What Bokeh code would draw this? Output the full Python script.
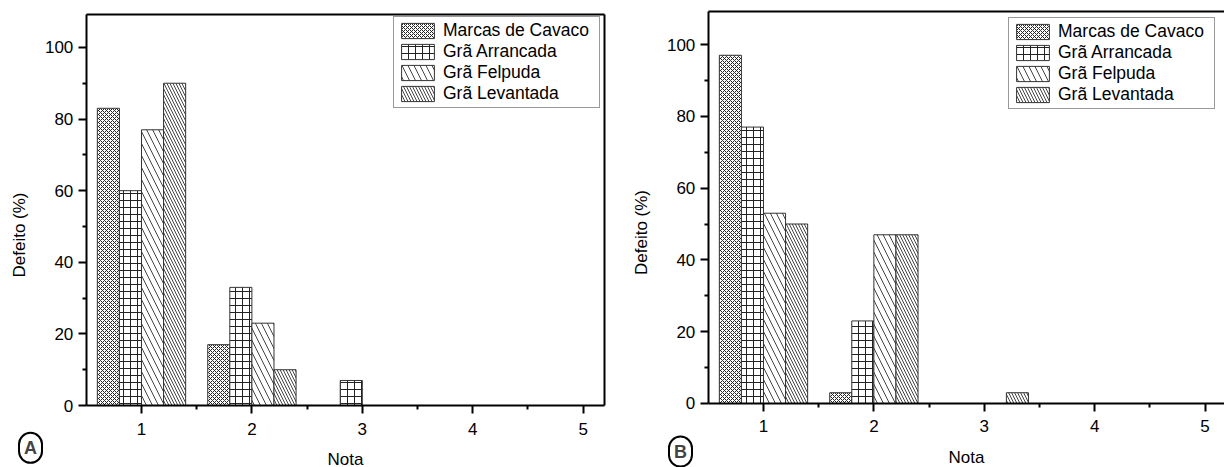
from bokeh.plotting import figure
from bokeh.layouts import row
from bokeh.models import FixedTicker, Legend, LegendItem, Label, LinearAxis
from bokeh.embed import file_html
from bokeh.resources import INLINE

notas = [1, 2, 3, 4, 5]
series = ["Marcas de Cavaco", "Grã Arrancada", "Grã Felpuda", "Grã Levantada"]

# Panel A values (%)
a_marcas = [83, 17, 0, 0, 0]
a_arrancada = [60, 33, 7, 0, 0]
a_felpuda = [77, 23, 0, 0, 0]
a_levantada = [90, 10, 0, 0, 0]

# Panel B values (%)
b_marcas = [97, 3, 0, 0, 0]
b_arrancada = [77, 23, 0, 0, 0]
b_felpuda = [53, 47, 0, 0, 0]
b_levantada = [50, 47, 3, 0, 0]

x_ticks = [1, 2, 3, 4, 5]
x_minor = [1.5, 2.5, 3.5, 4.5]
y_ticks = [0, 20, 40, 60, 80, 100]
y_minor = [10, 30, 50, 70, 90]

offsets = [-0.3, -0.1, 0.1, 0.3]
hatches = [
    dict(hatch_pattern="diagonal_cross", hatch_scale=4, hatch_weight=1, hatch_color="#222222"),
    dict(hatch_pattern="cross", hatch_scale=7, hatch_weight=1, hatch_color="#222222"),
    dict(hatch_pattern="left_diagonal_line", hatch_scale=12, hatch_weight=1, hatch_color="#444444"),
    dict(hatch_pattern="left_diagonal_line", hatch_scale=6, hatch_weight=1, hatch_color="#444444"),
]

FONT = "Liberation Sans"


def style_axis(ax):
    ax.axis_line_width = 2
    ax.axis_line_color = "black"
    ax.major_tick_line_width = 2
    ax.minor_tick_line_width = 2
    ax.major_tick_out = 8
    ax.major_tick_in = 0
    ax.minor_tick_out = 4
    ax.minor_tick_in = 0
    ax.major_label_text_font = FONT
    ax.major_label_text_font_size = "17px"
    ax.major_label_text_color = "black"
    ax.axis_label_text_font = FONT
    ax.axis_label_text_font_size = "17px"
    ax.axis_label_text_font_style = "normal"
    ax.axis_label_text_color = "black"


def bare_axis(loc, bounds):
    return LinearAxis(fixed_location=loc, bounds=bounds, ticker=FixedTicker(ticks=[]),
                      major_label_text_font_size="0px", axis_line_width=2,
                      axis_line_color="black", major_tick_line_color=None,
                      minor_tick_line_color=None)


def make_panel(vals, width, height, xr, yr, xb, yb, ylab_bounds, right_line, legloc,
               letter, lx, ly):
    p = figure(width=width, height=height, output_backend="svg", toolbar_location=None,
               x_range=xr, y_range=yr, x_axis_location=None, y_axis_location=None,
               min_border=0, min_border_left=0, min_border_right=0,
               min_border_top=0, min_border_bottom=0)
    p.grid.visible = False
    p.outline_line_color = None

    items = []
    for i, (name, v) in enumerate(zip(series, vals)):
        xs = [n + offsets[i] for n in notas]
        xs2 = [x for x, y in zip(xs, v) if y > 0]
        ys2 = [y for y in v if y > 0]
        r = p.vbar(x=xs2, top=ys2, width=0.2, bottom=0, fill_color="white",
                   line_color="#333333", line_width=1, **hatches[i])
        items.append(LegendItem(label=name, renderers=[r]))

    xa = LinearAxis(fixed_location=0, bounds=xb,
                    ticker=FixedTicker(ticks=x_ticks, minor_ticks=x_minor),
                    axis_label="Nota")
    style_axis(xa)
    xa.major_label_standoff = 9
    xa.axis_label_standoff = 12
    p.add_layout(xa, "below")

    ya = LinearAxis(fixed_location=0.5, bounds=yb,
                    ticker=FixedTicker(ticks=y_ticks, minor_ticks=y_minor))
    style_axis(ya)
    ya.major_label_standoff = 5
    p.add_layout(ya, "left")

    # axis title, centred a little below the middle of the frame as in the original
    yl = LinearAxis(fixed_location=0.5, bounds=ylab_bounds, ticker=FixedTicker(ticks=[]),
                    axis_label="Defeito (%)")
    style_axis(yl)
    yl.axis_line_color = None
    yl.major_tick_line_color = None
    yl.minor_tick_line_color = None
    yl.major_tick_out = 0
    yl.minor_tick_out = 0
    yl.major_label_text_font_size = "0px"
    yl.axis_label_standoff = 58
    p.add_layout(yl, "left")

    p.add_layout(bare_axis(yb[1], xb), "above")
    if right_line:
        p.add_layout(bare_axis(xb[1], yb), "right")

    leg = Legend(items=items, location=legloc, label_text_font=FONT,
                 label_text_font_size="17.5px", label_text_color="black",
                 glyph_width=41, glyph_height=19,
                 label_height=19, label_width=153, spacing=0, padding=3, margin=0,
                 label_standoff=5,
                 border_line_color="#333333", border_line_width=1.5,
                 background_fill_alpha=1)
    p.add_layout(leg)

    lab = Label(x=lx, y=ly, text=letter, text_align="center", text_baseline="middle",
                text_font=FONT, text_font_size="18px", text_font_style="bold",
                border_line_color="black", border_line_width=2, border_radius=14,
                padding=5, background_fill_color="white")
    p.add_layout(lab)
    return p


pA = make_panel([a_marcas, a_arrancada, a_felpuda, a_levantada],
                width=630, height=467, xr=(-0.277, 5.429), yr=(-17.3, 113.1),
                xb=(0.5, 5.19), yb=(0, 109.2), ylab_bounds=(-14, 109.2), right_line=True,
                legloc=(393, 359), letter="A", lx=-0.005, ly=-11.8)
pB = make_panel([b_marcas, b_arrancada, b_felpuda, b_levantada],
                width=594, height=467, xr=(-0.2047, 5.176), yr=(-17.83, 112.26),
                xb=(0.5, 5.176), yb=(0, 109.2), ylab_bounds=(-14, 109.2), right_line=False,
                legloc=(378, 358), letter="B", lx=0.248, ly=-13.4)

layout = row(pA, pB)
open("out.html", "w").write(file_html(layout, INLINE))
